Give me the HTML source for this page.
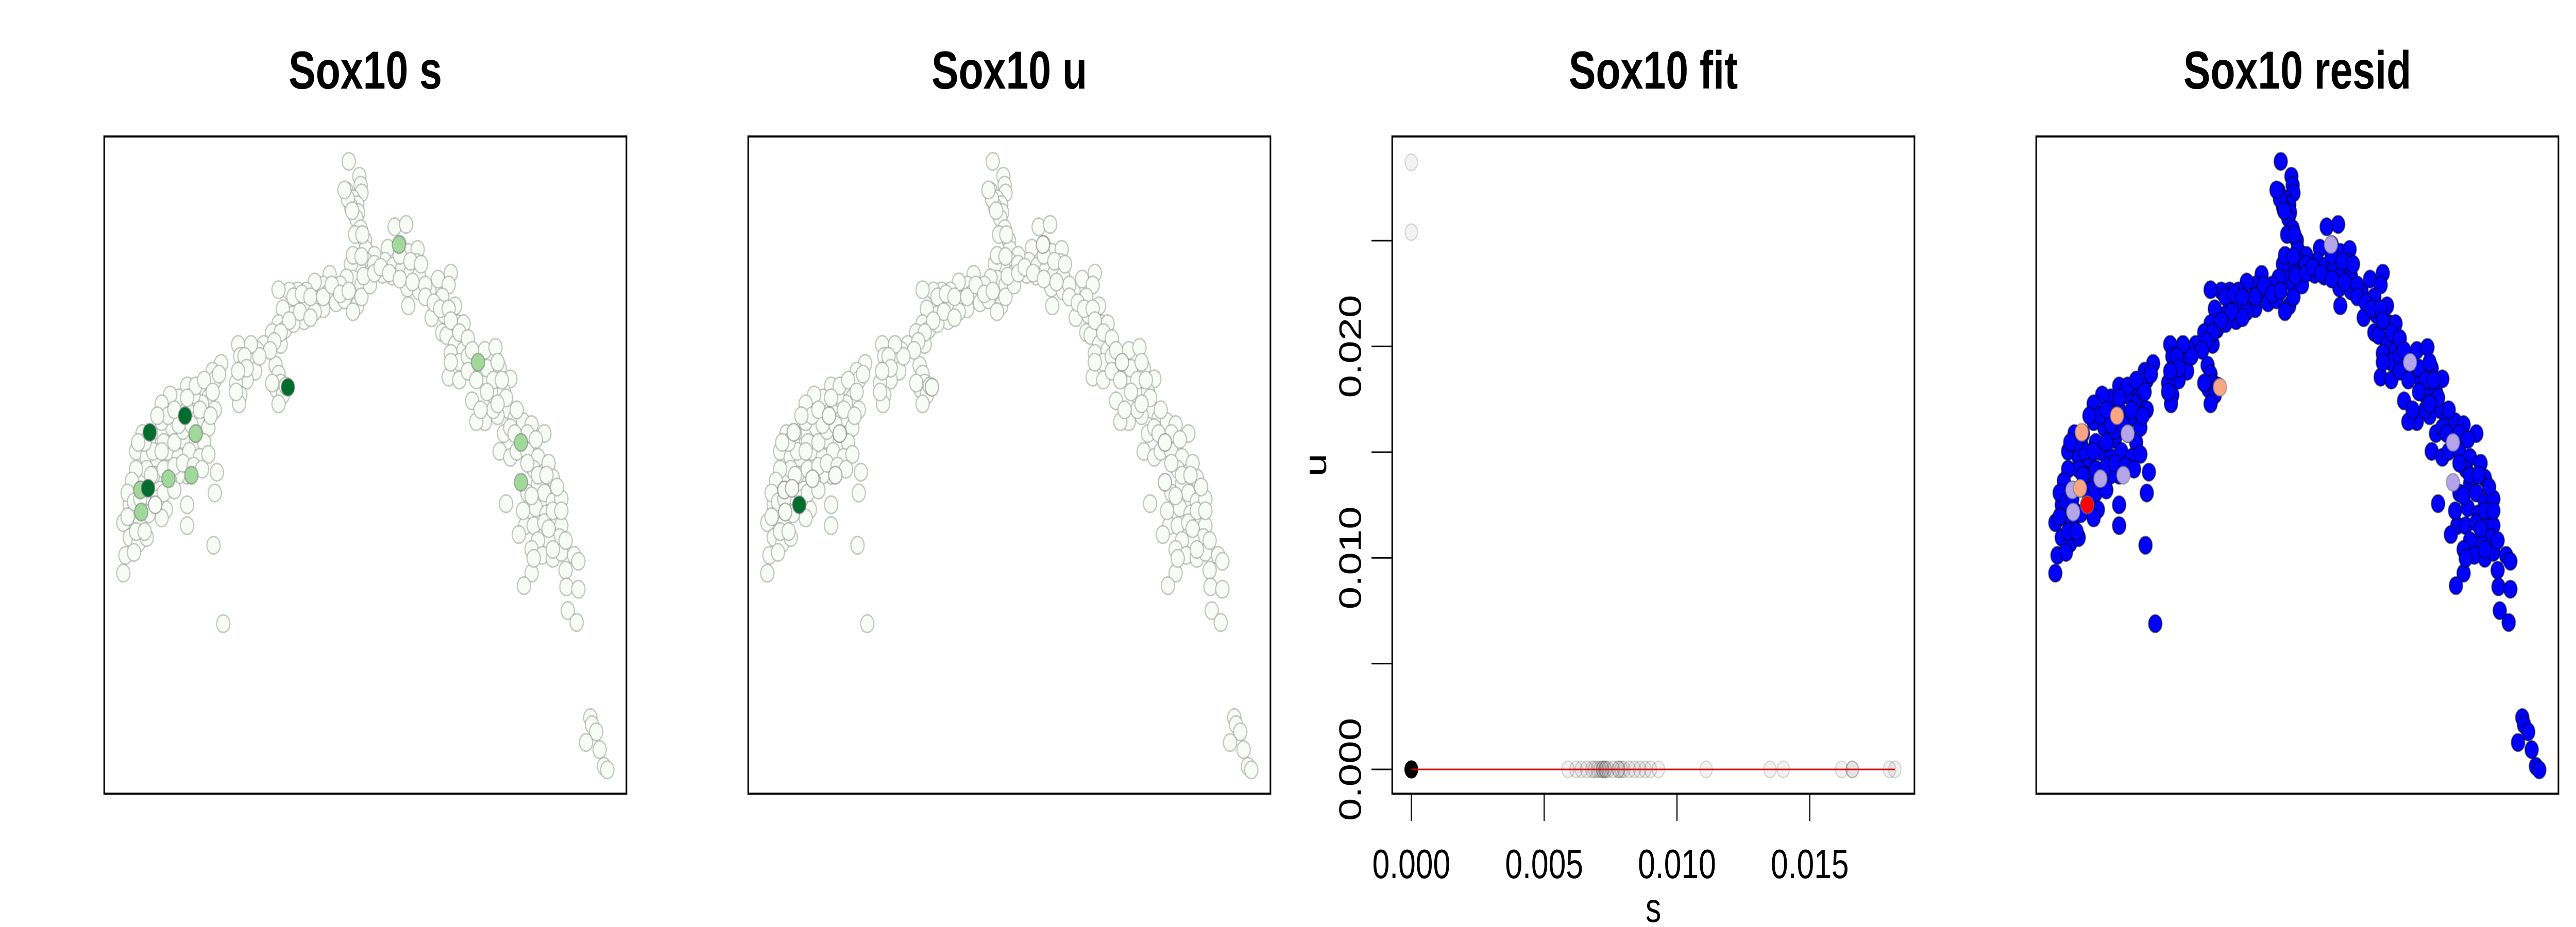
<!DOCTYPE html>
<html><head><meta charset="utf-8">
<style>html,body{margin:0;padding:0;background:#fff;width:100%;height:100%;overflow:hidden;}svg{display:block;width:100vw;height:100vh;}</style>
</head><body>
<svg id="chart" viewBox="0 0 6600 1800" preserveAspectRatio="none" xmlns="http://www.w3.org/2000/svg" font-family="Liberation Sans, sans-serif"></svg>
<script>
// spatial coordinates (arbitrary units) of base cells
const spotX=[820,845,848,815,850,830,840,825,842,838,848,858,
928,955,912,940,960,982,980,905,925,945,965,985,900,922,958,985,1010,960,1000,1030,1060,1055,1040,1070,1015,1045,1040,1075,1090,1050,1070,1060,1090,1080,1055,1080,1100,1125,1140,1165,1130,1150,1175,1200,1110,1160,1185,1195,1170,1140,1120,1210,1230,1250,1280,1185,1175,1200,1215,1240,1265,1290,1255,1265,1300,1280,1300,1320,1240,1260,1285,1310,1190,1235,1255,1280,1320,1315,1290,1265,1220,1250,1275,1300,1320,1350,1360,1330,1250,1232,1332,1360,1335,1356,
1388,1392,1402,1378,1410,1420,1428,
860,880,860,845,825,830,850,870,815,800,775,760,740,720,700,680,655,700,720,745,770,790,810,840,830,760,740,715,690,665,655,670,640,660,690,620,605,590,600,580,560,565,570,555,565,562,
648,655,660,650,665,655,672,640,
520,500,505,480,490,505,475,455,440,420,400,380,440,465,490,480,460,430,405,380,355,335,350,320,345,370,395,420,445,470,490,510,440,420,395,370,345,320,310,330,350,375,400,505,440,390,365,335,305,290,310,330,380,440,305,325,345,295,290,502,525];
const spotY=[272,297,312,322,325,335,345,348,358,368,385,405,
382,378,418,412,425,420,442,440,448,455,460,465,462,465,485,490,490,515,480,470,460,480,500,515,535,530,560,545,545,565,580,595,590,610,635,640,600,610,590,585,630,640,620,638,675,665,660,690,700,710,710,705,710,715,730,730,760,770,760,760,770,780,790,815,805,830,845,840,830,855,865,870,848,885,885,880,885,905,910,910,900,925,935,940,930,935,945,960,965,986,988,992,1028,1048,
1208,1220,1232,1250,1262,1290,1296,
420,430,440,450,445,470,480,460,468,480,462,480,475,490,490,490,488,510,515,505,495,510,505,515,525,520,525,540,530,520,545,555,560,580,545,580,590,605,625,640,580,600,620,645,665,680,
615,630,645,655,665,680,650,645,
612,625,640,655,670,690,680,665,650,670,665,680,690,705,720,745,730,740,720,710,730,730,745,760,770,775,760,770,760,770,765,795,800,800,805,800,790,790,810,825,822,825,810,830,850,858,850,860,850,880,870,880,872,885,905,915,905,935,965,918,1050];
// additional cells filling the dense band
const spotX2=[300,315,300,320,340,315,330,360,385,410,430,455,475,360,385,410,430,450,470,495,420,395,370,340,325,460,480,440,410,500,515,350,370,355,385,410,380,
690,710,730,760,780,800,820,850,870,880,855,705,730,680,660,645,635,610,590,575,580,560,555,880,895,830,850,835,852,818,810,828,
940,965,990,915,940,970,1000,1020,1035,1055,1060,1080,1100,1110,1060,1100,1120,1145,1160,1170,1180,1190,1160,1200,1215,1240,1260,1240,1265,1285,1310,1230,1250,1300,1320,1290,1330,1255,1300,1210,1170,1145,1130];
const spotY2=[830,845,870,895,895,930,840,800,790,785,780,785,790,760,745,745,725,715,690,700,715,700,700,745,745,650,640,670,690,660,630,865,840,800,830,825,760,
500,495,500,500,480,495,490,500,480,445,465,525,535,540,560,575,590,600,580,600,620,625,660,460,450,430,432,395,395,335,320,355,
430,440,445,460,470,475,500,510,520,520,540,560,570,590,610,625,640,620,640,610,640,670,690,720,690,730,740,780,800,800,820,860,835,860,860,890,910,940,925,730,680,660,690];
// highlighted cells: coordinates, spliced level, unspliced level, residual level
const hiX=[330,332,396,450,460,1124,1225,1225,938,435,348,352,677,365];
const hiY=[825,862,806,800,730,610,745,812,412,700,822,728,652,850];
const hiS=[1,1,1,1,1,1,1,1,1,2,2,2,2,0];
const hiU=[0,0,0,0,0,0,0,0,0,0,0,0,0,2];
const hiResid=[0,0,0,0,0,0,0,0,0,1,1,1,1,2];
// fit panel data
const fitS=[0.0059,0.0062,0.0064,0.0066,0.0068,0.0069,0.0070,0.0071,0.0072,0.0072,0.0073,0.0073,0.0074,0.0076,0.0078,0.0078,0.0079,0.0080,0.0082,0.0084,0.0086,0.0088,0.0090,0.0093,0.0111,0.0135,0.0140,0.0162,0.0166,0.0166,0.0180,0.0182,0,0];
const fitU=[0,0,0,0,0,0,0,0,0,0,0,0,0,0,0,0,0,0,0,0,0,0,0,0,0,0,0,0,0,0,0,0,0.0287,0.0254];
const zeroCount=[12];
const xTicks=[0,0.005,0.010,0.015];
const xTickLabels=["0.000","0.005","0.010","0.015"];
const yTicks=[0,0.005,0.010,0.015,0.020,0.025];
const yLabelVals=[0,0.010,0.020];
const yTickLabels=["0.000","0.010","0.020"];
const fitLineS=[0,0.0182];
const fitLineU=[0,0];

const NS="http://www.w3.org/2000/svg";
const svg=document.getElementById('chart');
function mk(tag,attrs,parent){const e=document.createElementNS(NS,tag);for(const k in attrs)e.setAttribute(k,attrs[k]);(parent||svg).appendChild(e);return e;}
const BOX={l:267,r:1605,t:265,b:1541};
function sx(v,off){return off+BOX.l+(v-245)/(1473-245)*(BOX.r-BOX.l);}
function sy(v){return BOX.t+(v-230)/(1336-230)*(BOX.b-BOX.t);}
const allX=spotX.concat(spotX2);
const allY=spotY.concat(spotY2);
const titles=["Sox10 s","Sox10 u","Sox10 fit","Sox10 resid"];
const tnames=["spliced-panel","unspliced-panel","fit-panel","resid-panel"];
const greens=["#f7fcf5","#a1d99b","#006d2c"];
const residCols=["#b4a5eb","#fca582","#ff0000"];
for(let p=0;p<4;p++){
  const off=p*1650;
  const g=mk('g',{});
  
  
  const t=mk('text',{x:off+936,y:172,'text-anchor':'middle','font-size':104,'font-weight':'bold'},g);
  t.textContent=titles[p];
  
  
  if(p===2) continue;
  const pts=mk('g',{},g);
  
  
  for(let i=0;i<allX.length;i++){
    const c=mk('circle',{cx:sx(allX[i],off),cy:sy(allY[i]),r:17,
      fill:p===3?'#0000ff':greens[0],stroke:p===3?'rgba(0,0,40,0.55)':'rgba(150,155,150,0.55)','stroke-width':3},pts);
    
    
  }
  for(let i=0;i<hiX.length;i++){
    let f;
    if(p===0)f=greens[hiS[i]];else if(p===1)f=greens[hiU[i]];else f=residCols[hiResid[i]];
    const c=mk('circle',{cx:sx(hiX[i],off),cy:sy(hiY[i]),r:17,fill:f,stroke:'rgba(120,120,120,0.55)','stroke-width':3},pts);
    
    
  }
}
// frames
for(let p=0;p<4;p++){
  const r=mk('rect',{x:p*1650+BOX.l,y:BOX.t,width:BOX.r-BOX.l,height:BOX.b-BOX.t,fill:'none',stroke:'#000','stroke-width':4});
  
  
}
// fit panel
const OFF=3300;
function fx(s){return OFF+316+s/0.005*340.3;}
function fy(u){return 1494-u/0.01*410.7;}
for(let i=0;i<fitS.length;i++){
  const c=mk('circle',{cx:fx(fitS[i]),cy:fy(fitU[i]),r:16,fill:'rgba(0,0,0,0.05)',stroke:'rgba(0,0,0,0.13)','stroke-width':3});
  
  
}
for(let k=0;k<zeroCount[0];k++){
  const c=mk('circle',{cx:fx(0),cy:fy(0),r:16,fill:'rgba(0,0,0,0.3)',stroke:'rgba(0,0,0,0.3)','stroke-width':3});
  
  
}
const ln=mk('line',{x1:fx(fitLineS[0]),y1:fy(fitLineU[0]),x2:fx(fitLineS[1]),y2:fy(fitLineU[1]),stroke:'#dd0000','stroke-width':3});


for(let i=0;i<xTicks.length;i++){
  const x=fx(xTicks[i]);
  const tk=mk('line',{x1:x,y1:BOX.b,x2:x,y2:BOX.b+53,stroke:'#000','stroke-width':3});
  
  
  const tl=mk('text',{x:x,y:1705,'text-anchor':'middle','font-size':80});
  tl.textContent=xTickLabels[i];
  
  
}
for(let i=0;i<yTicks.length;i++){
  const y=fy(yTicks[i]);
  const tk=mk('line',{x1:OFF+BOX.l,y1:y,x2:OFF+BOX.l-53,y2:y,stroke:'#000','stroke-width':3});
  
  
}
for(let i=0;i<yLabelVals.length;i++){
  const y=fy(yLabelVals[i]);
  const tl=mk('text',{x:0,y:0,'text-anchor':'middle','font-size':80,transform:`translate(${OFF+187},${y}) rotate(-90)`});
  tl.textContent=yTickLabels[i];
  
  
}
const xt=mk('text',{x:OFF+(BOX.l+BOX.r)/2,y:1790,'text-anchor':'middle','font-size':80});
xt.textContent='s';


const yt=mk('text',{x:0,y:0,'text-anchor':'middle','font-size':80,transform:`translate(${OFF+98},${(BOX.t+BOX.b)/2}) rotate(-90)`});
yt.textContent='u';


</script>
</body></html>
